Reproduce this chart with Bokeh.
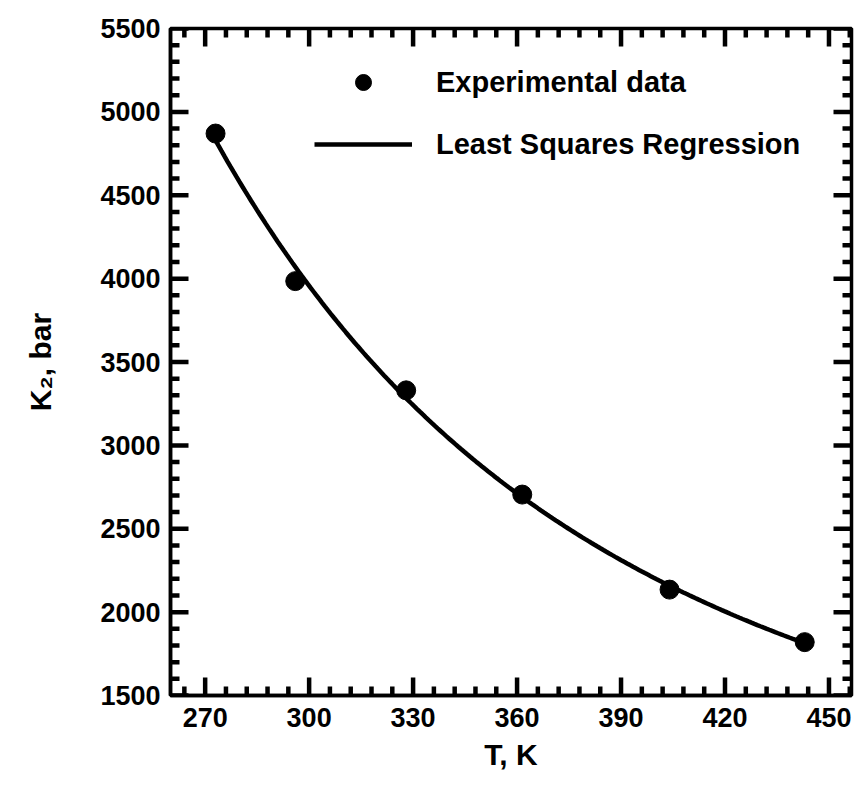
import numpy as np
from bokeh.plotting import figure
from bokeh.models import (Range1d, SingleIntervalTicker, Legend, LegendItem,
                          ColumnDataSource)
from bokeh.embed import file_html
from bokeh.resources import INLINE

# Data
temperature_K = [273, 296, 328, 361.5, 404, 443]
k2_bar = [4870, 3985, 3330, 2705, 2135, 1820]

x_label = "T, K"
y_label = "K\u2082, bar"
legend_points = "Experimental data"
legend_line = "Least Squares Regression"

X_MIN, X_MAX = 260, 456.5
Y_MIN, Y_MAX = 1500, 5500
X_STEP, X_MINOR = 30, 6
Y_STEP, Y_MINOR = 500, 100

# least-squares regression: ln K vs 1/T (quadratic)
coef = np.polyfit(1.0 / np.array(temperature_K), np.log(k2_bar), 2)
t_fit = np.linspace(min(temperature_K), max(temperature_K), 200)
k_fit = np.exp(np.polyval(coef, 1.0 / t_fit))

FONT = "Liberation Sans"
W, H = 855, 788
BL, BR, BT, BB = 170, 4, 28, 93

p = figure(width=W, height=H, output_backend="svg", toolbar_location=None,
           x_range=Range1d(X_MIN, X_MAX), y_range=Range1d(Y_MIN, Y_MAX),
           min_border_left=BL, min_border_right=BR, min_border_top=BT,
           min_border_bottom=BB)
p.background_fill_color = "white"
p.border_fill_color = "white"
p.outline_line_color = "black"
p.outline_line_width = 3.5
p.grid.visible = False

for ax, step, nminor in ((p.xaxis[0], X_STEP, X_STEP // X_MINOR),
                         (p.yaxis[0], Y_STEP, Y_STEP // Y_MINOR)):
    ax.ticker = SingleIntervalTicker(interval=step, num_minor_ticks=nminor)
    ax.axis_line_width = 3.5
    ax.major_tick_in = 0
    ax.major_tick_out = 0
    ax.minor_tick_in = 0
    ax.minor_tick_out = 0
    ax.major_label_text_font = FONT
    ax.major_label_text_font_style = "bold"
    ax.major_label_text_font_size = "27px"
    ax.major_label_text_color = "black"
    ax.axis_label_text_font = FONT
    ax.axis_label_text_font_style = "bold"
    ax.axis_label_text_font_size = "30px"
    ax.axis_label_text_color = "black"

p.xaxis[0].axis_label = x_label
p.yaxis[0].axis_label = y_label
p.xaxis[0].major_label_standoff = 12
p.yaxis[0].major_label_standoff = 10
p.xaxis[0].axis_label_standoff = 8
p.yaxis[0].axis_label_standoff = 40

# inward ticks on all four sides of the box, drawn as one multi-line glyph
fw = W - BL - BR
fh = H - BT - BB
ux = (X_MAX - X_MIN) / fw   # data units per pixel
uy = (Y_MAX - Y_MIN) / fh
MAJ, MIN = 18, 9

x_major = list(range(270, 451, X_STEP))
x_minor = [v for v in range(264, 457, X_MINOR) if v % X_STEP != 0]
y_major = list(range(Y_MIN, Y_MAX + 1, Y_STEP))
y_minor = [v for v in range(Y_MIN, Y_MAX + 1, Y_MINOR) if v % Y_STEP != 0]

tick_xs, tick_ys = [], []
for xs, L in ((x_major, MAJ), (x_minor, MIN)):
    for v in xs:
        tick_xs += [[v, v], [v, v]]
        tick_ys += [[Y_MIN, Y_MIN + L * uy], [Y_MAX, Y_MAX - L * uy]]
for ys, L in ((y_major, MAJ), (y_minor, MIN)):
    for v in ys:
        tick_xs += [[X_MIN, X_MIN + L * ux], [X_MAX, X_MAX - L * ux]]
        tick_ys += [[v, v], [v, v]]
p.multi_line(xs="xs", ys="ys", source=ColumnDataSource(dict(xs=tick_xs, ys=tick_ys)),
             line_color="#000000", line_width=4.5)

line_r = p.line(t_fit, k_fit, line_color="black", line_width=4.5)
pts_r = p.scatter(temperature_K, k2_bar, marker="circle", size=19,
                  fill_color="black", line_color="black")

legend = Legend(items=[LegendItem(label=legend_points, renderers=[pts_r]),
                       LegendItem(label=legend_line, renderers=[line_r])],
                location=(144, 531), padding=0, margin=0,
                glyph_width=98, glyph_height=40, label_height=40,
                spacing=22, label_standoff=24,
                border_line_color=None, background_fill_alpha=0,
                label_text_font=FONT, label_text_font_style="bold",
                label_text_font_size="29px", label_text_color="black")
p.add_layout(legend, "center")

open("out.html", "w").write(file_html(p, INLINE))
